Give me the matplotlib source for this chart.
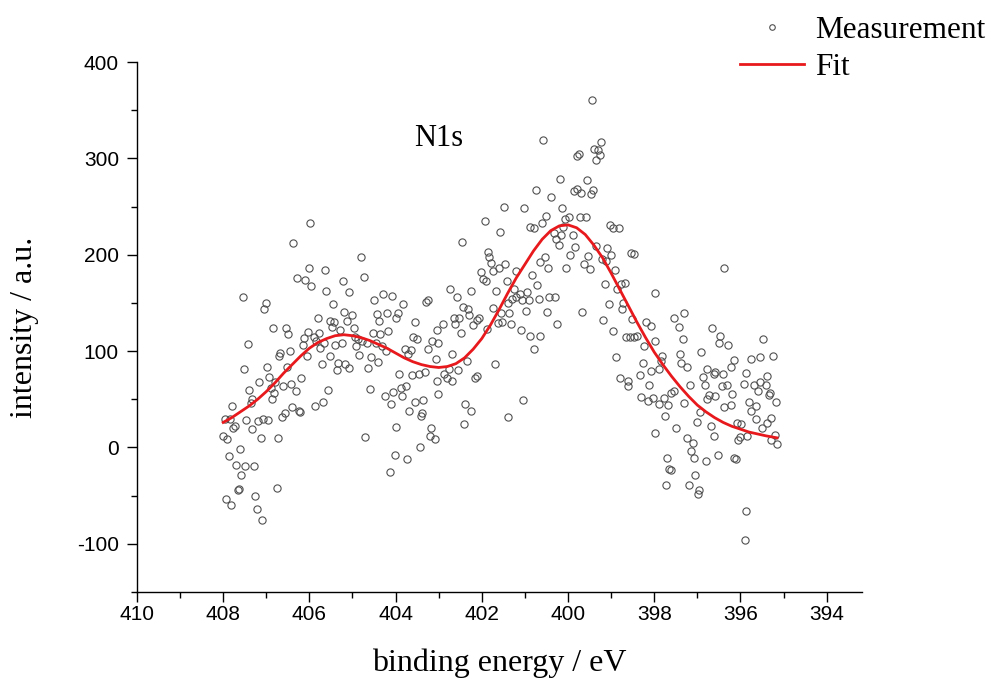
import numpy as np
import matplotlib
matplotlib.use("Agg")
import matplotlib.pyplot as plt
from matplotlib.ticker import MultipleLocator
from matplotlib.lines import Line2D

meas = [
    (406.39, 212), (407.55, 156), (407.01, 150), (407.05, 144), (406.84, 124), (406.55, 124),
    (406.49, 118), (407.43, 107), (406.45, 100), (406.67, 98), (406.71, 95), (407.52, 81),
    (406.99, 83), (406.51, 83), (407.16, 68), (406.93, 73), (407.40, 60), (406.80, 68),
    (406.43, 66), (406.61, 64), (406.90, 62), (406.81, 57), (407.34, 50), (407.36, 46),
    (406.86, 50), (407.79, 43), (406.40, 42), (407.96, 30), (407.85, 30), (407.46, 29),
    (407.07, 30), (406.95, 28), (406.57, 36), (406.63, 32), (407.20, 27), (407.73, 22),
    (407.77, 20), (408.00, 12), (407.91, 9), (407.32, 19), (407.13, 10), (406.72, 10),
    (407.61, -2), (407.87, -9), (407.70, -18), (407.49, -19), (407.28, -19), (407.59, -29),
    (407.66, -44), (407.63, -43), (406.75, -42), (407.93, -53), (407.82, -60), (407.25, -50),
    (407.22, -64), (407.10, -75),
    (405.98, 233), (404.80, 198), (406.02, 186), (405.63, 184), (406.28, 176), (406.10, 174),
    (405.96, 168), (405.22, 173), (404.74, 177), (405.61, 162), (405.07, 161), (405.45, 149),
    (405.19, 141), (405.01, 137), (405.80, 134), (405.53, 131), (405.42, 130), (405.48, 125),
    (405.13, 131), (404.96, 124), (406.04, 120), (406.13, 114), (405.90, 115), (405.78, 119),
    (405.84, 110), (405.29, 122), (406.15, 106), (405.66, 108), (405.40, 106), (405.25, 108),
    (404.94, 115), (404.87, 113), (404.78, 110), (404.92, 105), (405.75, 103), (406.06, 95),
    (405.53, 95), (404.86, 96), (405.34, 88), (405.71, 87), (405.17, 87), (405.36, 80),
    (405.09, 82), (406.19, 72), (406.31, 59), (405.57, 60), (406.25, 38), (406.21, 37),
    (405.86, 43), (405.69, 47), (404.72, 11),
    (404.50, 153), (404.29, 159), (404.09, 157), (403.82, 149), (403.29, 151), (403.25, 153),
    (404.44, 138), (404.21, 140), (403.94, 140), (403.98, 134), (404.39, 131), (403.54, 130),
    (404.52, 119), (404.36, 118), (404.18, 121), (403.60, 115), (403.50, 113), (403.05, 122),
    (403.15, 110), (404.67, 108), (404.46, 108), (404.31, 105), (404.23, 100), (403.79, 102),
    (403.65, 101), (403.71, 97), (403.24, 102), (404.56, 94), (404.41, 89), (403.07, 92),
    (404.63, 82), (403.91, 76), (403.61, 75), (403.46, 76), (403.32, 78), (403.03, 69),
    (404.59, 61), (403.88, 62), (403.75, 64), (404.05, 58), (403.84, 53), (404.25, 53),
    (404.11, 45), (403.55, 47), (403.36, 49), (403.02, 56), (403.68, 38), (403.38, 36),
    (403.41, 33), (404.00, 21), (403.17, 20), (403.21, 12), (403.09, 9), (403.43, 0),
    (404.02, -8), (403.74, -12), (404.14, -25),
    (401.48, 250), (401.93, 235), (401.58, 224), (402.46, 213), (401.85, 203), (401.83, 198),
    (401.79, 191), (401.46, 190), (401.59, 186), (401.73, 183), (402.02, 182), (401.98, 175),
    (401.90, 173), (401.42, 173), (402.73, 164), (402.25, 162), (401.67, 162), (402.58, 156),
    (402.43, 146), (402.31, 144), (401.75, 145), (401.40, 150), (402.29, 137), (402.64, 134),
    (402.52, 134), (402.06, 134), (402.11, 132), (401.55, 140), (401.38, 140), (402.91, 128),
    (402.62, 128), (402.20, 127), (401.63, 129), (401.52, 130), (401.32, 128), (401.87, 123),
    (402.48, 119), (403.02, 108), (402.70, 97), (402.34, 90), (401.69, 87), (402.77, 81),
    (402.55, 80), (402.87, 76), (402.81, 72), (402.68, 69), (402.16, 72), (402.10, 74),
    (402.38, 45), (402.24, 38), (401.39, 32), (402.41, 24),
    (400.57, 319), (399.75, 305), (399.79, 302), (400.18, 279), (400.75, 267), (400.39, 260),
    (399.87, 266), (399.79, 268), (399.71, 264), (401.01, 248), (400.13, 248), (400.51, 240),
    (400.60, 233), (400.87, 229), (400.80, 228), (399.98, 239), (400.08, 237), (399.72, 239),
    (400.12, 229), (400.33, 223), (400.16, 221), (399.88, 221), (400.27, 216), (400.22, 210),
    (399.95, 200), (399.83, 208), (400.54, 198), (400.66, 192), (400.46, 186), (400.04, 186),
    (401.20, 183), (400.84, 179), (400.72, 169), (401.25, 164), (400.95, 161), (401.12, 159),
    (401.20, 156), (401.30, 154), (401.07, 153), (400.91, 153), (400.68, 154), (400.43, 156),
    (400.30, 156), (400.98, 142), (400.48, 141), (399.68, 141), (400.25, 128), (401.10, 122),
    (400.89, 116), (400.64, 116), (400.78, 102), (401.04, 49),
    (399.45, 361), (399.23, 317), (399.40, 310), (399.30, 309), (399.26, 303), (399.34, 298),
    (399.57, 278), (399.41, 267), (399.47, 263), (399.59, 239), (399.03, 231), (398.95, 228),
    (398.82, 228), (399.36, 209), (399.09, 207), (398.54, 202), (398.47, 201), (399.01, 200),
    (399.53, 199), (399.22, 196), (399.12, 194), (399.63, 190), (399.50, 185), (398.91, 184),
    (399.14, 170), (398.76, 170), (398.68, 171), (398.86, 164), (397.98, 160), (399.05, 149),
    (398.73, 150), (398.74, 144), (398.51, 133), (399.19, 132), (398.20, 130), (398.07, 126),
    (398.95, 121), (398.65, 115), (398.56, 115), (398.48, 115), (398.39, 116), (397.98, 111),
    (398.23, 105), (398.89, 94), (398.27, 88), (398.08, 79), (398.33, 75), (398.79, 72),
    (398.60, 69), (398.60, 64), (398.12, 65), (398.30, 52), (398.14, 48),
    (396.39, 186), (397.30, 140), (397.55, 134), (397.43, 125), (396.66, 124), (396.47, 116),
    (396.49, 108), (397.34, 113), (396.91, 99), (397.40, 97), (397.82, 95), (397.84, 90),
    (397.37, 88), (397.25, 83), (397.90, 81), (396.77, 81), (396.62, 76), (396.58, 78),
    (396.41, 76), (396.87, 73), (397.16, 65), (396.83, 65), (396.43, 64), (397.53, 59),
    (397.61, 57), (396.74, 54), (396.78, 50), (396.58, 53), (398.02, 51), (397.78, 51),
    (397.88, 45), (397.67, 44), (397.32, 46), (396.37, 42), (396.93, 37), (397.76, 33),
    (397.01, 26), (396.68, 22), (397.49, 20), (397.99, 15), (396.61, 12), (397.24, 10),
    (397.11, 5), (397.14, -4), (396.52, -8), (397.08, -11), (397.71, -11), (396.81, -14),
    (397.66, -22), (397.61, -23), (397.05, -29), (397.73, -39), (397.20, -39), (396.97, -44),
    (396.99, -48),
    (395.48, 113), (396.28, 106), (395.76, 92), (395.55, 94), (395.24, 95), (396.14, 91),
    (396.23, 84), (395.88, 77), (395.39, 74), (396.30, 65), (395.92, 66), (395.68, 65),
    (395.55, 68), (395.59, 59), (395.41, 65), (395.32, 57), (395.34, 54), (396.19, 56),
    (395.18, 47), (395.81, 47), (395.65, 43), (396.22, 44), (395.75, 38), (395.28, 31),
    (395.63, 30), (396.09, 25), (395.99, 24), (395.38, 25), (395.50, 20), (395.28, 8),
    (395.19, 13), (395.84, 12), (396.02, 11), (396.05, 8), (396.16, -11), (396.11, -12),
    (395.86, -66), (395.90, -96), (395.15, 4),
]
meas_x = [p[0] for p in meas]
meas_y = [p[1] for p in meas]

# fit curve
fit_x = [408.0, 407.8, 407.6, 407.4, 407.2, 407.0, 406.8, 406.6, 406.4, 406.2, 406.0,
         405.8, 405.6, 405.4, 405.2, 405.0, 404.8, 404.6, 404.4, 404.2, 404.0,
         403.8, 403.6, 403.4, 403.2, 403.0, 402.8, 402.6, 402.4, 402.2, 402.0,
         401.8, 401.6, 401.4, 401.2, 401.0, 400.8, 400.6, 400.4, 400.2, 400.0,
         399.8, 399.6, 399.4, 399.2, 399.0, 398.8, 398.6, 398.4, 398.2, 398.0,
         397.8, 397.6, 397.4, 397.2, 397.0, 396.8, 396.6, 396.4, 396.2, 396.0,
         395.8, 395.6, 395.4, 395.15]
fit_y = [26, 31, 37, 43, 50, 58, 67, 77, 86, 95, 103,
         109, 113, 116, 117, 116, 114, 111, 107, 103, 98,
         93, 89, 86, 84, 83, 84, 87, 93, 102, 113,
         127, 143, 160, 176, 190, 204, 216, 225, 230, 231,
         228, 221, 210, 197, 181, 164, 147, 130, 114, 99,
         86, 74, 63, 53, 44, 37, 31, 26, 22, 19,
         16, 14, 12, 10]

x_ticks = [410, 408, 406, 404, 402, 400, 398, 396, 394]
y_ticks = [-100, 0, 100, 200, 300, 400]

plt.rcParams['font.family'] = ['Liberation Sans', 'DejaVu Sans']
plt.rcParams['axes.unicode_minus'] = False
serif = ['Liberation Serif', 'DejaVu Serif']

fig = plt.figure(figsize=(9.91, 6.83), dpi=100)
ax = fig.add_axes([0.1382, 0.1332, 0.7316, 0.776])

ax.plot(meas_x, meas_y, 'o', ms=5.2, mfc='none', mec='#505050', mew=0.8, label='Measurement')
ax.plot(fit_x, fit_y, '-', color='#e8191c', lw=2.0, label='Fit')

ax.set_xlim(410, 393.18)
ax.set_ylim(-150, 400)
ax.set_xticks(x_ticks)
ax.set_yticks(y_ticks)
ax.xaxis.set_minor_locator(MultipleLocator(1))
ax.yaxis.set_minor_locator(MultipleLocator(50))
ax.tick_params(which='major', direction='out', length=7, width=1, labelsize=15)
ax.tick_params(axis='x', which='major', pad=2)
ax.tick_params(axis='y', which='major', pad=6)
ax.tick_params(which='minor', direction='out', length=4, width=1)
for s in ['top', 'right']:
    ax.spines[s].set_visible(False)
for s in ['left', 'bottom']:
    ax.spines[s].set_linewidth(1)

ax.set_xlabel('binding energy / eV', family=serif, fontsize=23, labelpad=18)
ax.set_ylabel('intensity / a.u.', family=serif, fontsize=23, labelpad=27)
ax.text(403.0, 321, 'N1s', family=serif, fontsize=22, ha='center', va='center')

handles = [Line2D([], [], ls='none', marker='o', ms=4, mfc='none', mec='#505050', mew=0.8),
           Line2D([], [], color='#e8191c', lw=2.0)]
fig.legend(handles, ['Measurement', 'Fit'], loc='upper left', bbox_to_anchor=(740 / 991, 0.977),
           frameon=False, prop={'family': serif, 'size': 22.5}, handlelength=2.05,
           handletextpad=0.35, labelspacing=0.25, borderpad=0, borderaxespad=0)

fig.savefig('out.png', dpi=100)
